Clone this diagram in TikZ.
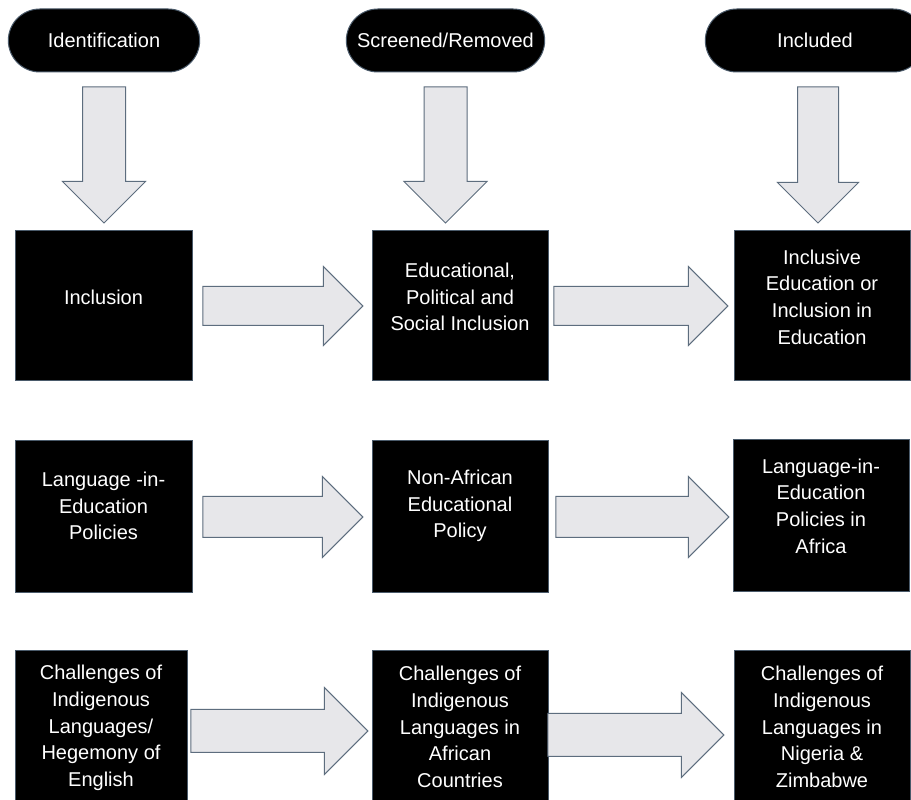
\documentclass[tikz,border=0pt]{standalone}
\usepackage{fontspec}
\setmainfont{Liberation Sans}
\usepackage{xcolor}
\usepackage{tikz}
\usetikzlibrary{arrows.meta,positioning,calc,shapes.misc,shapes.arrows}
\definecolor{arrowfill}{HTML}{E7E7EA}
\definecolor{arrowline}{HTML}{5D6D7E}
\definecolor{edgeline}{HTML}{4A5A6A}

\begin{document}
\begin{tikzpicture}[x=1pt,y=1pt,
	pill/.style={rounded rectangle,fill=black,draw=edgeline,line width=1pt,minimum height=63pt,text=white,font=\fontsize{20}{26}\selectfont},
	box/.style={rectangle,fill=black,draw=edgeline,line width=0.8pt,minimum height=#1},
	boxtext/.style={text=white,align=center,inner sep=0pt,font=\fontsize{20}{26.7}\selectfont},
	blockarrow/.style={single arrow,anchor=tail,fill=arrowfill,draw=arrowline,line width=1pt,inner xsep=0pt,inner ysep=20pt,single arrow head extend=20pt,minimum height=#1}]
	\clip (0,0) rectangle (911,800);
	\fill[white] (0,0) rectangle (911,800);
	
	% headings
	\node[pill,minimum width=198pt] (p1) at (104,759.5) {Identification};
	\node[pill,minimum width=205pt] (p2) at (445.5,759.5) {Screened/Removed};
	\node[pill,minimum width=226pt] (p3) at (815,759.5) {Included};
	
	% first row
	\node[box=150pt,minimum width=177pt] (a1) at (103.5,495) {};
	\node[box=150pt,minimum width=176pt] (b1) at (460,495) {};
	\node[box=150pt,minimum width=176pt] (c1) at (822,495) {};
	\node[boxtext] (a1t) at ([yshift=8pt]a1.center) {Inclusion};
	\node[boxtext] (b1t) at ([yshift=8pt]b1.center) {Educational,\\Political and\\Social Inclusion};
	\node[boxtext] (c1t) at ([yshift=8pt]c1.center) {Inclusive\\Education or\\Inclusion in\\Education};
	
	% second row
	\node[box=152pt,minimum width=177pt] (a2) at (103.5,284) {};
	\node[box=152pt,minimum width=176pt] (b2) at (460,284) {};
	\node[box=152pt,minimum width=176pt] (c2) at (821,285) {};
	\node[boxtext] (a2t) at ([yshift=10pt]a2.center) {Language -in-\\Education\\Policies};
	\node[boxtext] (b2t) at ([yshift=10pt]b2.center) {Non-African\\Educational\\Policy};
	\node[boxtext] (c2t) at ([yshift=9pt]c2.center) {Language-in-\\Education\\Policies in\\Africa};
	
	% third row
	\node[box=170pt,minimum width=172pt] (a3) at (101,65) {};
	\node[box=170pt,minimum width=176pt] (b3) at (460,65) {};
	\node[box=170pt,minimum width=176pt] (c3) at (822,65) {};
	\node[boxtext] (a3t) at ([yshift=7pt]a3.center) {Challenges of\\Indigenous\\Languages/\\Hegemony of\\English};
	\node[boxtext] (b3t) at ([yshift=8pt]b3.center) {Challenges of\\Indigenous\\Languages in\\African\\Countries};
	\node[boxtext] (c3t) at ([yshift=8pt]c3.center) {Challenges of\\Indigenous\\Languages in\\Nigeria \&\\Zimbabwe};
	
	% down arrows
	\node[blockarrow=136pt,inner ysep=21pt,rotate=-90] (d1) at ([yshift=-14pt]p1.south) {};
	\node[blockarrow=136pt,inner ysep=21pt,rotate=-90] (d2) at ([yshift=-14pt]p2.south) {};
	\node[blockarrow=136pt,inner ysep=20pt,rotate=-90] (d3) at ([xshift=3pt,yshift=-14pt]p3.south) {};
	
	% right arrows
	\node[blockarrow=160pt,inner ysep=19pt] (ab1) at ([xshift=10pt,yshift=-1pt]a1.east) {};
	\node[blockarrow=174pt,inner ysep=19pt] (bc1) at ([xshift=5pt,yshift=-1pt]b1.east) {};
	\node[blockarrow=160pt] (ab2) at ([xshift=10pt,yshift=-1pt]a2.east) {};
	\node[blockarrow=173pt] (bc2) at ([xshift=7pt,yshift=-1pt]b2.east) {};
	\node[blockarrow=177pt,inner ysep=21pt,single arrow head extend=22pt] (ab3) at ([xshift=3pt,yshift=4pt]a3.east) {};
	\node[blockarrow=176pt,inner ysep=21pt,single arrow head extend=21pt] (bc3) at ([xshift=-1pt]b3.east) {};
\end{tikzpicture}
\end{document}
